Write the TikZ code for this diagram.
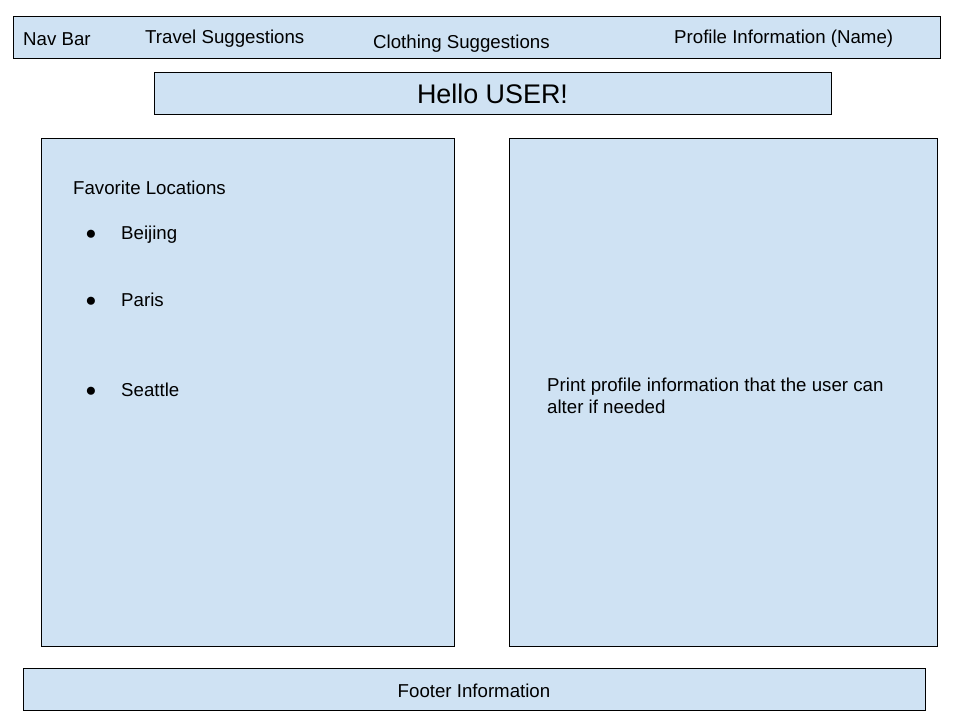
\documentclass[tikz,border=0pt]{standalone}
\usepackage{fontspec}
\setmainfont{Liberation Sans}
\usepackage{tikz}
\definecolor{wf_blue}{RGB}{207, 226, 243}
\tikzstyle{pane}=[rectangle,fill=wf_blue,draw=black,line width=0.8pt,inner sep=0pt]
\tikzstyle{lbl}=[anchor=base west,inner sep=0pt,font=\fontsize{18.67}{21.5}\selectfont]
\tikzstyle{big}=[anchor=base,inner sep=0pt,font=\fontsize{26.9}{30}\selectfont]

\begin{document}
\begin{tikzpicture}[x=1pt, y=-1pt]
        \useasboundingbox (0,0) rectangle (960,720);
        \node[style=pane, minimum width=927pt, minimum height=42pt] (nav) at (476.5,37) {};
        \node[style=pane, minimum width=677pt, minimum height=42pt] (hello) at (492.5,93) {};
        \node[style=pane, minimum width=413pt, minimum height=508pt] (left) at (247.5,392) {};
        \node[style=pane, minimum width=428pt, minimum height=508pt] (right) at (723,392) {};
        \node[style=pane, minimum width=902pt, minimum height=42pt] (footer) at (474,689) {};
        \node[style=lbl] (navbar) at (23,45.5) {Nav Bar};
        \node[style=lbl] (travel) at (145,43.5) {Travel Suggestions};
        \node[style=lbl] (clothing) at (373,48) {Clothing Suggestions};
        \node[style=lbl] (profile) at (674,43.5) {Profile Information (Name)};
        \node[style=big] (greet) at (492.5,103.5) {Hello USER!};
        \node[style=lbl] (fav) at (73,194.5) {Favorite Locations};
        \node[style=lbl, anchor=base] (b1) at (91,239.5) {●};
        \node[style=lbl] (loc1) at (121,239.5) {Beijing};
        \node[style=lbl, anchor=base] (b2) at (91,306.5) {●};
        \node[style=lbl] (loc2) at (121,306.5) {Paris};
        \node[style=lbl, anchor=base] (b3) at (91,396) {●};
        \node[style=lbl] (loc3) at (121,396) {Seattle};
        \node[style=lbl] (info1) at (547,391.5) {Print profile information that the user can};
        \node[style=lbl] (info2) at (547,413.5) {alter if needed};
        \node[style=lbl, anchor=base] (foot) at (474,697) {Footer Information};
    \end{tikzpicture}
\end{document}
